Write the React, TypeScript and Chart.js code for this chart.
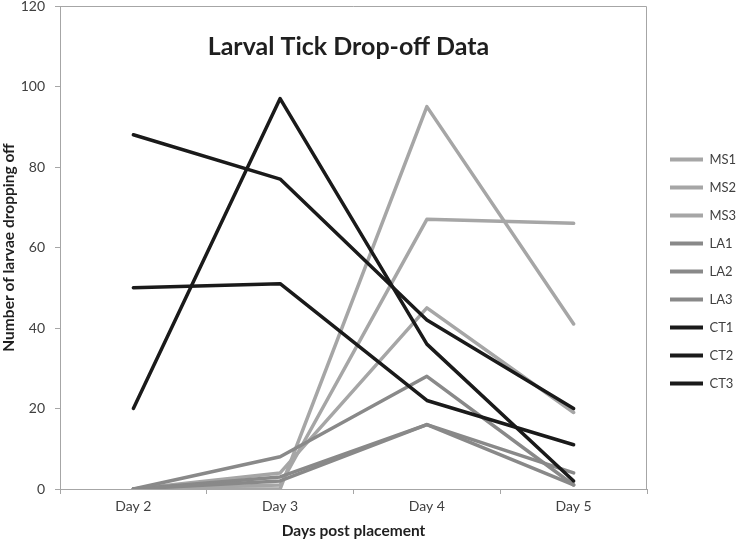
import React, { useEffect, useRef } from "react";
import { Chart, registerables } from "chart.js";

Chart.register(...registerables);

const chartTitle = "Larval Tick Drop-off Data";
const xTitle = "Days post placement";
const yTitle = "Number of larvae dropping off";

const categories = ["Day 2", "Day 3", "Day 4", "Day 5"];
const yTicks = [0, 20, 40, 60, 80, 100, 120];

const seriesNames = ["MS1", "MS2", "MS3", "LA1", "LA2", "LA3", "CT1", "CT2", "CT3"];
const MS1 = [0, 0, 95, 41];
const MS2 = [0, 1, 67, 66];
const MS3 = [0, 4, 45, 19];
const LA1 = [0, 8, 28, 1];
const LA2 = [0, 2, 16, 4];
const LA3 = [0, 3, 16, 1];
const CT1 = [88, 77, 42, 20];
const CT2 = [50, 51, 22, 11];
const CT3 = [20, 97, 36, 2];

const seriesValues = [MS1, MS2, MS3, LA1, LA2, LA3, CT1, CT2, CT3];

const FONT = "Lato, 'Open Sans', sans-serif";
const MS_COLOR = "#a6a6a6";
const LA_COLOR = "#898989";
const CT_COLOR = "#1a1a1a";
const AXIS_COLOR = "#a6a6a6";

function colorFor(name: string) {
  if (name.startsWith("MS")) return MS_COLOR;
  if (name.startsWith("LA")) return LA_COLOR;
  return CT_COLOR;
}
function orderFor(name: string) {
  if (name.startsWith("MS")) return 2;
  if (name.startsWith("LA")) return 1;
  return 0;
}

const framePlugin = {
  id: "frameAndTitle",
  beforeDatasetsDraw(chart: any) {
    const { ctx, chartArea: a } = chart;
    ctx.save();
    ctx.strokeStyle = AXIS_COLOR;
    ctx.lineWidth = 1;
    ctx.beginPath();
    ctx.moveTo(a.left, Math.round(a.top) + 0.5);
    ctx.lineTo(Math.round(a.right) - 0.5, Math.round(a.top) + 0.5);
    ctx.lineTo(Math.round(a.right) - 0.5, a.bottom);
    ctx.stroke();
    ctx.restore();
  },
  afterDatasetsDraw(chart: any) {
    const { ctx, chartArea: a } = chart;
    ctx.save();
    ctx.fillStyle = "#1f1f1f";
    ctx.font = `bold 25px ${FONT}`;
    ctx.textAlign = "center";
    ctx.textBaseline = "middle";
    ctx.fillText(chartTitle, (a.left + a.right) / 2 - 5, a.top + 41);
    ctx.restore();
  },
};

export default function App() {
  const canvasRef = useRef<HTMLCanvasElement | null>(null);

  useEffect(() => {
    if (!canvasRef.current) return;
    const datasets = seriesNames.map((name, i) => ({
      label: name,
      data: seriesValues[i],
      borderColor: colorFor(name),
      backgroundColor: colorFor(name),
      borderWidth: 3.5,
      pointRadius: 0,
      pointHoverRadius: 0,
      tension: 0,
      borderJoinStyle: "round" as const,
      borderCapStyle: "round" as const,
      order: orderFor(name),
    }));

    const chart = new Chart(canvasRef.current, {
      type: "line",
      data: { labels: categories, datasets },
      options: {
        animation: false,
        responsive: true,
        maintainAspectRatio: false,
        layout: { padding: 0 },
        plugins: {
          tooltip: { enabled: false },
          title: { display: false },
          subtitle: {
            display: true,
            text: "",
            position: "right",
            fullSize: false,
            weight: 500,
            font: { size: 1, lineHeight: 1 },
            padding: { top: 7, bottom: 0 },
          } as any,
          legend: {
            display: true,
            position: "right",
            maxWidth: 84,
            labels: {
              boxWidth: 33,
              boxHeight: 4,
              padding: 15,
              color: "#404040",
              font: { family: FONT, size: 13 },
              sort: (a: any, b: any) => a.datasetIndex - b.datasetIndex,
              generateLabels: (c: any) =>
                Chart.defaults.plugins.legend.labels
                  .generateLabels(c)
                  .map((l: any) => ({ ...l, lineWidth: 0, fillStyle: l.strokeStyle })),
            },
          } as any,
        },
        scales: {
          x: {
            type: "category",
            offset: true,
            grid: {
              display: true,
              drawOnChartArea: false,
              offset: true,
              tickLength: 5,
              color: AXIS_COLOR,
            },
            border: { color: AXIS_COLOR },
            ticks: {
              color: "#404040",
              font: { family: FONT, size: 14 },
              padding: 4,
              maxRotation: 0,
            },
            title: {
              display: true,
              text: xTitle,
              color: "#1f1f1f",
              font: { family: FONT, size: 15.5, weight: "bold" },
              padding: { top: 2, bottom: 3 },
            },
            afterFit: (s: any) => {
              s.height = 54;
            },
          } as any,
          y: {
            min: 0,
            max: 120,
            afterBuildTicks: (s: any) => {
              s.ticks = yTicks.map((v) => ({ value: v }));
            },
            grid: {
              display: true,
              drawOnChartArea: false,
              tickLength: 5,
              color: AXIS_COLOR,
            },
            border: { color: AXIS_COLOR },
            ticks: {
              color: "#404040",
              font: { family: FONT, size: 14 },
              padding: 10,
            },
            title: {
              display: true,
              text: yTitle,
              color: "#1f1f1f",
              font: { family: FONT, size: 15.5, weight: "bold" },
              padding: { top: 0, bottom: 0 },
            },
            afterFit: (s: any) => {
              s.width = 60;
              s.paddingTop = 6;
              s.paddingBottom = 0;
            },
          } as any,
        },
      },
      plugins: [framePlugin],
    });
    return () => chart.destroy();
  }, []);

  return (
    <div style={{ position: "absolute", left: 0, top: 0, width: 739, height: 543 }}>
      <canvas ref={canvasRef} />
    </div>
  );
}
